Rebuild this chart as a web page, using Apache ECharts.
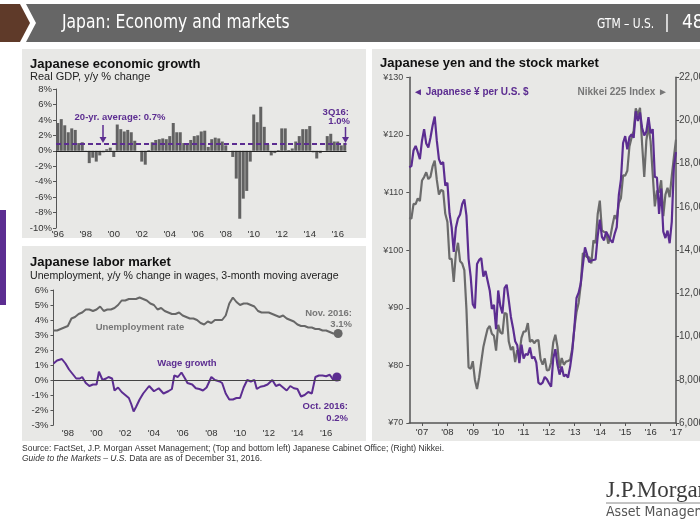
<!DOCTYPE html>
<html><head><meta charset="utf-8">
<script src="https://cdn.jsdelivr.net/npm/echarts@6/dist/echarts.min.js"></script>
<style>html,body{margin:0;padding:0;background:#fff}#c{width:700px;height:525px}</style>
</head><body><div id="c"></div>
<script>
// ---------- DATA ----------
// Real GDP y/y % change, quarterly from 1Q96 to 3Q16
const gdpStartYear = 1996;
const gdpGrowth = [3.6,4.1,3.3,2.4, 2.9,2.7,1.0,1.1, -0.1,-1.6,-0.9,-1.4, -0.6,-0.2,0.2,0.4,
  -0.8,3.4,2.8,2.5, 2.7,2.4,1.3,0.0, -1.4,-1.8,0.1,1.1, 1.4,1.5,1.6,1.5,
  1.9,3.6,2.4,2.4, 1.0,0.8,1.4,1.9, 2.0,2.5,2.6,0.5, 1.5,1.7,1.6,1.2,
  0.7,0.0,-0.8,-3.6, -8.8,-6.2,-5.2,-1.4, 4.7,3.7,5.7,3.1, 0.8,-0.6,-0.3,0.1,
  2.9,2.9,0.1,0.3, 1.2,1.9,2.8,2.8, 3.2,-0.2,-1.0,-0.3, 0.0,1.9,2.2,1.2, 1.2,0.7,1.0];
const gdpAverageLine = 0.9;
const gdpTickLabels = ["'96","'98","'00","'02","'04","'06","'08","'10","'12","'14","'16"];

// Unemployment rate, quarterly (Jan/Apr/Jul/Oct) 1997-2016, then Nov 2016
const unempRate = [3.3,3.3,3.4,3.5, 3.6,4.1,4.2,4.4, 4.5,4.7,4.7,4.6, 4.7,4.9,4.6,4.7,
  4.7,4.8,5.0,5.3, 5.3,5.4,5.4,5.4, 5.5,5.4,5.3,5.1, 5.0,4.7,4.8,4.6,
  4.5,4.4,4.4,4.5, 4.3,4.2,4.1,4.1, 4.0,3.8,3.7,3.9, 3.8,4.0,4.0,4.0,
  4.3,5.1,5.5,5.2, 5.0,5.1,5.1,5.0, 4.9,4.6,4.5,4.5, 4.5,4.4,4.3,4.2,
  4.3,4.1,4.0,3.9, 3.7,3.6,3.6,3.5, 3.5,3.4,3.4,3.3, 3.3,3.2,3.1,3.1];
const unempLast = 3.1; // Nov. 2016

// Wage growth, 3-month moving average
const wageDates = ['1997-01','1997-04','1997-08','1997-11','1998-02','1998-05','1998-08','1998-11',
  '1999-01','1999-04','1999-07','1999-10','2000-01','2000-03','2000-06','2000-09','2000-11',
  '2001-02','2001-04','2001-07','2001-10','2002-01','2002-04','2002-06','2002-08','2002-10',
  '2003-01','2003-04','2003-07','2003-09','2004-01','2004-05','2004-09','2005-01','2005-04',
  '2005-06','2005-09','2005-12','2006-03','2006-05','2006-09','2006-12','2007-03','2007-06',
  '2007-09','2008-01','2008-04','2008-08','2008-10','2009-01','2009-04','2009-07','2009-10',
  '2010-01','2010-04','2010-07','2010-10','2011-01','2011-03','2011-06','2011-09','2011-12',
  '2012-04','2012-07','2012-10','2013-01','2013-04','2013-07','2013-10','2014-01','2014-04',
  '2014-07','2014-10','2015-01','2015-04','2015-07','2015-10','2016-01','2016-04','2016-07','2016-10'];
const wageGrowth = [1.1,1.3,1.4,1.1,0.7,0.4,0.1,0.1, 0.2,-0.2,-0.4,-0.3,-0.3,0.55,0.0,0.1,0.2,
  0.1,-0.7,-0.5,-0.8,-1.0,-1.2,-1.6,-2.1,-1.8, -1.3,-0.9,-0.6,-0.4,-0.75,-0.55,-0.9,-0.75,-0.6,
  0.3,0.2,0.5,0.1,-0.2,-0.3,-0.55,-0.6,-0.7, -0.5,0.2,0.0,-0.1,-0.2,-0.9,-1.3,-1.3,-1.2,
  -1.2,-0.5,0.0,-0.1,0.0,-0.6,-0.45,-0.4,-0.3, 0.0,-0.4,-0.3,-0.5,-0.7,-0.4,-0.55,-0.6,-1.1,
  -1.0,-0.8,-0.9,0.2,0.3,0.3,0.25,0.35,0.0,0.2];
const laborTickLabels = ["'98","'00","'02","'04","'06","'08","'10","'12","'14","'16"];

// Monthly from Jun 2006 to Dec 2016
const marketStart = 2006.5;
const usdJpy = [114.4,114.6,117.3,118.1,117.0,115.8,119.0,
  121.0,118.5,117.8,119.5,121.6,123.2,119.0,115.8,114.9,115.3,111.2,111.7,
  106.4,104.0,99.7,103.9,105.5,106.2,108.0,108.8,106.0,98.5,95.4,90.6,
  89.9,97.6,98.3,98.6,95.4,96.4,94.7,93.0,89.8,90.5,86.3,93.0,
  90.3,89.0,93.4,94.0,91.3,88.4,86.5,84.2,83.5,80.4,83.6,81.2,
  82.0,81.8,83.1,81.2,81.5,80.5,77.0,76.7,77.0,78.0,77.6,76.9,
  76.3,81.2,82.8,80.1,78.4,79.8,78.1,78.4,77.9,79.8,82.5,86.6,
  91.7,92.6,94.2,97.4,100.5,99.2,97.9,98.2,98.3,98.4,102.4,105.3,
  102.3,101.7,103.2,102.5,101.8,101.3,102.8,104.0,109.6,112.3,118.6,119.8,
  117.5,119.6,120.1,119.5,124.1,122.4,123.9,121.2,119.9,120.6,123.1,120.3,
  121.0,112.7,112.6,106.3,110.7,103.2,102.1,103.4,101.2,104.9,114.5,117.0];
const nikkei225 = [15505,15457,16140,16127,16399,16274,17225,
  17383,17604,17288,17400,17876,18138,17249,16569,16786,16738,15681,15308,
  13592,13603,12526,13850,14339,13482,13377,13073,11260,8577,8512,8860,
  7994,7568,8110,8828,9523,9958,10357,10493,10133,10035,9346,10546,
  10198,10126,11090,11057,9769,9383,9537,8824,9369,9202,9937,10229,
  10238,10624,9755,9850,9694,9816,9833,8955,8700,8988,8435,8455,
  8803,9723,10084,9521,8543,9007,8695,8840,8870,8928,9446,10395,
  11139,11559,12398,13861,13775,13677,13668,13389,14456,14328,15662,16291,
  14915,14841,14828,14304,14632,15162,15621,15425,16174,16414,17460,17451,
  17674,18798,19207,19520,20563,20236,20585,18890,17388,19083,19747,19034,
  17518,16027,16759,16666,17235,15576,16569,16887,16450,17425,18308,19114];
const marketTickLabels = ["'07","'08","'09","'10","'11","'12","'13","'14","'15","'16","'17"];

// ---------- BUILD ----------
const PURPLE = '#5c2d91', GREY = '#676767', AX = '#555';
const FONT = '"Liberation Sans", Arial, sans-serif';
const NARROW = '"Liberation Sans Narrow","DejaVu Sans Condensed","Liberation Sans",sans-serif';

const gdpQuarters = gdpGrowth.map((_, i) => (gdpStartYear + Math.floor(i / 4)) + 'Q' + (i % 4 + 1));
const unempData = unempRate.map((v, i) => [1997 + i * 0.25, v]);
unempData.push({value: [2016 + 10 / 12, unempLast], symbol: 'circle', symbolSize: 9});
const ym = s => +s.slice(0, 4) + (+s.slice(5, 7) - 1) / 12;
const wageData = wageDates.map((d, i) => [ym(d), wageGrowth[i]]);
const lastW = wageData.length - 1;
wageData[lastW] = {value: wageData[lastW], symbol: 'circle', symbolSize: 9};
const yenData = usdJpy.map((v, i) => [marketStart + i / 12, v]);
const nkData = nikkei225.map((v, i) => [marketStart + i / 12, v]);
const marketTicks = marketTickLabels.map((_, i) => 2007 + i);

const lbl = {fontFamily: FONT, fontSize: 9.5, color: '#333'};

function txt(x, y, text, font, fill, align, sx) {
  return {type: 'text', x: x, y: y, z: 50, silent: true, scaleX: sx || 1,
    style: {text: text, font: font, fill: fill, textAlign: align || 'left', textVerticalAlign: 'middle'}};
}
function arrow(x, y1, y2) {
  return [
    {type: 'line', z: 50, shape: {x1: x, y1: y1, x2: x, y2: y2 - 5}, style: {stroke: PURPLE, lineWidth: 1.5}},
    {type: 'polygon', z: 50, shape: {points: [[x - 3.5, y2 - 6], [x + 3.5, y2 - 6], [x, y2]]}, style: {fill: PURPLE}}
  ];
}

const graphics = [
  {type: 'rect', z: -5, shape: {x: 22, y: 49, width: 344, height: 189}, style: {fill: '#e8e8e6'}},
  {type: 'rect', z: -5, shape: {x: 22, y: 246, width: 344, height: 195}, style: {fill: '#e8e8e6'}},
  {type: 'rect', z: -5, shape: {x: 372, y: 49, width: 328, height: 392}, style: {fill: '#e8e8e6'}},
  {type: 'rect', z: -5, shape: {x: 0, y: 210, width: 6, height: 95}, style: {fill: PURPLE}},
  {type: 'polygon', z: -5, shape: {points: [[0, 4], [20, 4], [30, 23], [20, 42], [0, 42]]}, style: {fill: '#5f3a29'}},
  {type: 'polygon', z: -5, shape: {points: [[26, 4], [700, 4], [700, 42], [26, 42], [36, 23]]}, style: {fill: '#666666'}},
  txt(62, 23, 'Japan: Economy and markets', '20px ' + NARROW, '#fff', 'left', 0.865),
  txt(597, 24, 'GTM – U.S.', '14px ' + NARROW, '#fff', 'left', 0.85),
  txt(667, 23, '|', '18px ' + NARROW, '#fff', 'center'),
  txt(682, 23, '48', '19px ' + NARROW, '#fff'),
  // panel titles
  txt(30, 64, 'Japanese economic growth', 'bold 13px ' + FONT, '#111'),
  txt(30, 77, 'Real GDP, y/y % change', '11px ' + FONT, '#222'),
  txt(30, 262, 'Japanese labor market', 'bold 13px ' + FONT, '#111'),
  txt(30, 276, 'Unemployment, y/y % change in wages, 3-month moving average', '10.6px ' + FONT, '#222'),
  txt(380, 63, 'Japanese yen and the stock market', 'bold 13px ' + FONT, '#111'),
  // chart 1 annotations
  txt(120, 117, '20-yr. average: 0.7%', 'bold 9.5px ' + FONT, PURPLE, 'center'),
  txt(349, 112, '3Q16:', 'bold 9.5px ' + FONT, PURPLE, 'right'),
  txt(350, 121, '1.0%', 'bold 9.5px ' + FONT, PURPLE, 'right'),
  ...arrow(103, 125, 143),
  ...arrow(345.5, 127, 143),
  // chart 2 annotations
  txt(140, 327, 'Unemployment rate', 'bold 9.5px ' + FONT, '#777', 'center'),
  txt(352, 313, 'Nov. 2016:', 'bold 9.5px ' + FONT, '#777', 'right'),
  txt(352, 324, '3.1%', 'bold 9.5px ' + FONT, '#777', 'right'),
  txt(187, 363, 'Wage growth', 'bold 9.5px ' + FONT, PURPLE, 'center'),
  txt(348, 406, 'Oct. 2016:', 'bold 9.5px ' + FONT, PURPLE, 'right'),
  txt(348, 418, '0.2%', 'bold 9.5px ' + FONT, PURPLE, 'right'),
  // chart 3 legend labels
  txt(413, 92, '◄ Japanese ¥ per U.S. $', 'bold 10px ' + FONT, PURPLE),
  txt(668, 92, 'Nikkei 225 Index ►', 'bold 10px ' + FONT, '#777', 'right'),
  // footer
  txt(22, 449, 'Source: FactSet, J.P. Morgan Asset Management; (Top and bottom left) Japanese Cabinet Office; (Right) Nikkei.', '8.5px ' + FONT, '#333'),
  {type: 'text', x: 22, y: 459, z: 50, silent: true, style: {
    text: '{i|Guide to the Markets – U.S.} Data are as of December 31, 2016.',
    font: '8.5px ' + FONT, fill: '#333', textVerticalAlign: 'middle',
    rich: {i: {fontStyle: 'italic', fontSize: 8.5, fontFamily: 'Liberation Sans', fill: '#333'}}}},
  txt(606, 491, 'J.P.Morgan', '23px "Liberation Serif", serif', '#3c3c3c'),
  {type: 'line', z: 50, shape: {x1: 606, y1: 503, x2: 700, y2: 503}, style: {stroke: '#888', lineWidth: 1}},
  txt(606, 512, 'Asset Management', '14px ' + NARROW, '#555')
];

const chart = echarts.init(document.getElementById('c'), null, {renderer: 'canvas'});
chart.setOption({
  animation: false,
  backgroundColor: '#fff',
  textStyle: {fontFamily: FONT},
  grid: [
    {left: 56, top: 89, width: 290.5, height: 139, containLabel: false, outerBoundsMode: 'none'},
    {left: 53.5, top: 290, width: 287, height: 135, containLabel: false, outerBoundsMode: 'none'},
    {left: 409.3, top: 77.3, width: 266.7, height: 345.7, containLabel: false, outerBoundsMode: 'none'}
  ],
  xAxis: [
    {type: 'category', gridIndex: 0, data: gdpQuarters, boundaryGap: true,
     axisLine: {show: false}, axisTick: {show: false},
     axisLabel: Object.assign({}, lbl, {margin: 1, interval: (i) => i % 8 === 0,
       formatter: (v, i) => gdpTickLabels[i / 8] || ''})},
    {type: 'value', gridIndex: 1, min: 1997, max: 2017, interval: 1, splitLine: {show: false},
     axisLine: {show: false}, axisTick: {show: false},
     axisLabel: Object.assign({}, lbl, {margin: 3, showMinLabel: true, showMaxLabel: false,
       formatter: v => (v % 2 === 0 && v >= 1998 && v <= 2016) ? laborTickLabels[(v - 1998) / 2] : ''})},
    {type: 'value', gridIndex: 2, min: 2006.5, max: 2017, splitLine: {show: false},
     axisLine: {show: true, lineStyle: {color: AX, width: 1.5}},
     axisTick: {show: true, customValues: marketTicks, length: 3, lineStyle: {color: AX}},
     axisLabel: Object.assign({}, lbl, {margin: 4, customValues: marketTicks,
       formatter: v => marketTickLabels[Math.round(v) - 2007]})}
  ],
  yAxis: [
    {type: 'value', gridIndex: 0, min: -10, max: 8, interval: 2, splitLine: {show: false},
     axisLine: {show: true, lineStyle: {color: AX, width: 1}},
     axisTick: {show: true, length: 3, lineStyle: {color: AX}},
     axisLabel: Object.assign({}, lbl, {margin: 4, formatter: '{value}%'})},
    {type: 'value', gridIndex: 1, min: -3, max: 6, interval: 1, splitLine: {show: false},
     axisLine: {show: true, lineStyle: {color: AX, width: 1}},
     axisTick: {show: true, length: 3, lineStyle: {color: AX}},
     axisLabel: Object.assign({}, lbl, {margin: 5, formatter: '{value}%'})},
    {type: 'value', gridIndex: 2, position: 'left', min: 70, max: 130, interval: 10, splitLine: {show: false},
     axisLine: {show: true, lineStyle: {color: AX, width: 1.5}},
     axisTick: {show: true, length: 3, lineStyle: {color: AX}},
     axisLabel: Object.assign({}, lbl, {margin: 6, fontSize: 9, color: '#444', formatter: '¥{value}'})},
    {type: 'value', gridIndex: 2, position: 'right', min: 6000, max: 22000, interval: 2000, splitLine: {show: false},
     axisLine: {show: true, lineStyle: {color: AX, width: 1.5}},
     axisTick: {show: true, length: 3, lineStyle: {color: AX}},
     axisLabel: Object.assign({}, lbl, {margin: 3, fontSize: 10, color: '#444',
       formatter: v => v.toLocaleString('en-US')})}
  ],
  series: [
    {type: 'bar', xAxisIndex: 0, yAxisIndex: 0, data: gdpGrowth, barCategoryGap: '14%',
     itemStyle: {color: '#626262'}, silent: true,
     markLine: {silent: true, symbol: 'none', label: {show: false}, animation: false,
       data: [
         {yAxis: 0, lineStyle: {color: '#222', width: 1, type: 'solid'}},
         {yAxis: gdpAverageLine, lineStyle: {color: PURPLE, width: 2, type: [5, 3]}}
       ]}},
    {type: 'line', xAxisIndex: 1, yAxisIndex: 1, data: unempData, symbol: 'none',
     lineStyle: {color: GREY, width: 2}, itemStyle: {color: GREY}, silent: true},
    {type: 'line', xAxisIndex: 1, yAxisIndex: 1, data: wageData, symbol: 'none',
     lineStyle: {color: PURPLE, width: 2}, itemStyle: {color: PURPLE}, silent: true,
     markLine: {silent: true, symbol: 'none', label: {show: false},
       data: [{yAxis: 0, lineStyle: {color: '#444', width: 1, type: 'solid'}}]}},
    {type: 'line', xAxisIndex: 2, yAxisIndex: 3, data: nkData, symbol: 'none',
     lineStyle: {color: '#6b6b6b', width: 2.2}, silent: true},
    {type: 'line', xAxisIndex: 2, yAxisIndex: 2, data: yenData, symbol: 'none',
     lineStyle: {color: PURPLE, width: 2.2}, silent: true}
  ],
  graphic: {elements: graphics}
});
</script></body></html>
